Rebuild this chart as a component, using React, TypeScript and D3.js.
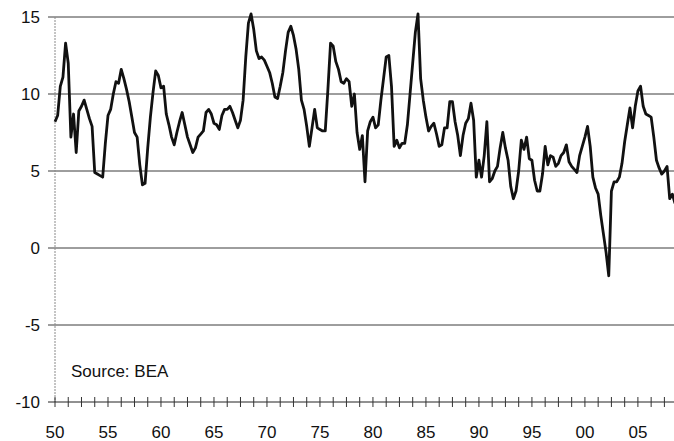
import * as d3 from "d3";

// quarterly series, 1950Q1 onwards
const startYear = 1950;
const values = [
  8.2, 8.6, 10.5, 11.1, 13.3, 12.0, 7.2, 8.7, 6.2, 8.9,
  9.2, 9.6, 9.0, 8.4, 7.9, 4.9, 4.8, 4.7, 4.6, 6.8,
  8.6, 9.0, 10.0, 10.8, 10.7, 11.6, 11.0, 10.3, 9.5, 8.5,
  7.5, 7.2, 5.4, 4.1, 4.2, 6.5, 8.5, 10.1, 11.5, 11.2,
  10.4, 10.5, 8.7, 8.0, 7.2, 6.7, 7.5, 8.2, 8.8, 8.0,
  7.2, 6.7, 6.2, 6.5, 7.2, 7.4, 7.6, 8.8, 9.0, 8.7,
  8.1, 8.0, 7.7, 8.6, 9.0, 9.0, 9.2, 8.8, 8.3, 7.8,
  8.3, 9.6, 12.4, 14.6, 15.2, 14.2, 12.8, 12.3, 12.4, 12.2,
  11.8, 11.4, 10.7, 9.8, 9.7, 10.5, 11.4, 12.8, 14.0, 14.4,
  13.8, 12.9, 11.6, 9.6, 9.0, 7.9, 6.6, 7.8, 9.0, 7.8,
  7.7, 7.6, 7.6, 10.3, 13.3, 13.1, 12.1, 11.6, 10.8, 10.7,
  11.0, 10.8, 9.2, 10.0, 7.5, 6.4, 7.3, 4.3, 7.6, 8.2,
  8.5, 7.8, 8.0, 9.6, 11.0, 12.4, 12.5, 10.5, 6.6, 7.0,
  6.5, 6.8, 6.8, 8.0, 10.0, 12.0, 14.0, 15.2, 11.0, 9.6,
  8.5, 7.6, 7.9, 8.1, 7.4, 6.6, 6.7, 7.8, 7.8, 9.5,
  9.5, 8.2, 7.3, 6.0, 7.3, 8.1, 8.4, 9.4, 8.3, 4.6,
  5.7, 4.6, 6.0, 8.2, 4.3, 4.5, 5.0, 5.3, 6.5, 7.5,
  6.5, 5.7, 4.0, 3.2, 3.7, 5.0, 7.0, 6.4, 7.2, 5.8,
  5.7, 4.4, 3.7, 3.7, 4.8, 6.6, 5.4, 6.0, 5.9, 5.3,
  5.5, 6.0, 6.2, 6.7, 5.6, 5.3, 5.1, 4.9, 6.0, 6.6,
  7.2, 7.9, 6.6, 4.6, 3.9, 3.5, 2.1, 0.9, -0.3, -1.8,
  3.7, 4.3, 4.3, 4.6, 5.5, 6.9, 8.0, 9.1, 7.8, 9.2,
  10.2, 10.5, 9.2, 8.7, 8.6, 8.5, 7.2, 5.7, 5.2, 4.8,
  5.0, 5.3, 3.2, 3.5, 2.9,
];

const yTicks = [15, 10, 5, 0, -5, -10];
const yearLabels = ["50", "55", "60", "65", "70", "75", "80", "85", "90", "95", "00", "05"];
const sourceNote = "Source: BEA";

const W = 674;
const H = 441;
const font = "'Liberation Sans', Arial, sans-serif";

export default function App() {
  const x = d3.scaleLinear().domain([0, 234]).range([55, 675]);
  const y = d3.scaleLinear().domain([-10, 15]).range([402, 17]);

  const line = d3
    .line<number>()
    .x((_, i) => x(i))
    .y((d) => y(d));

  const tickIdx = d3.range(0, values.length + 1, 5);

  return (
    <svg
      width={W}
      height={H}
      style={{ position: "absolute", left: 0, top: 0, background: "#fff" }}
    >
      {/* gridlines */}
      {yTicks.slice(0, -1).map((t) => (
        <line key={t} x1={48} x2={W} y1={y(t)} y2={y(t)} stroke="#3c3c3c" strokeWidth={1} />
      ))}
      {/* y axis */}
      <line x1={55} x2={55} y1={y(15)} y2={y(-10)} stroke="#8a8a8a" strokeWidth={1} strokeDasharray="2 1" />
      {yTicks.map((t) => (
        <text
          key={t}
          x={40}
          y={y(t)}
          textAnchor="end"
          dominantBaseline="central"
          fontFamily={font}
          fontSize={17}
          fill="#111"
        >
          {t}
        </text>
      ))}
      {/* x axis */}
      <line x1={48} x2={W} y1={y(-10)} y2={y(-10)} stroke="#222" strokeWidth={1} />
      {tickIdx.map((i) => (
        <line key={i} x1={x(i)} x2={x(i)} y1={y(-10) - 5} y2={y(-10) + 5} stroke="#333" strokeWidth={1} />
      ))}
      {yearLabels.map((lab, k) => (
        <text
          key={lab}
          x={x(k * 20)}
          y={438}
          textAnchor="middle"
          fontFamily={font}
          fontSize={17}
          fill="#111"
        >
          {lab}
        </text>
      ))}
      <text x={71} y={377} fontFamily={font} fontSize={17} fill="#111">
        {sourceNote}
      </text>
      {/* series */}
      <path d={line(values) || ""} fill="none" stroke="#111" strokeWidth={2.8} strokeLinejoin="round" />
    </svg>
  );
}
